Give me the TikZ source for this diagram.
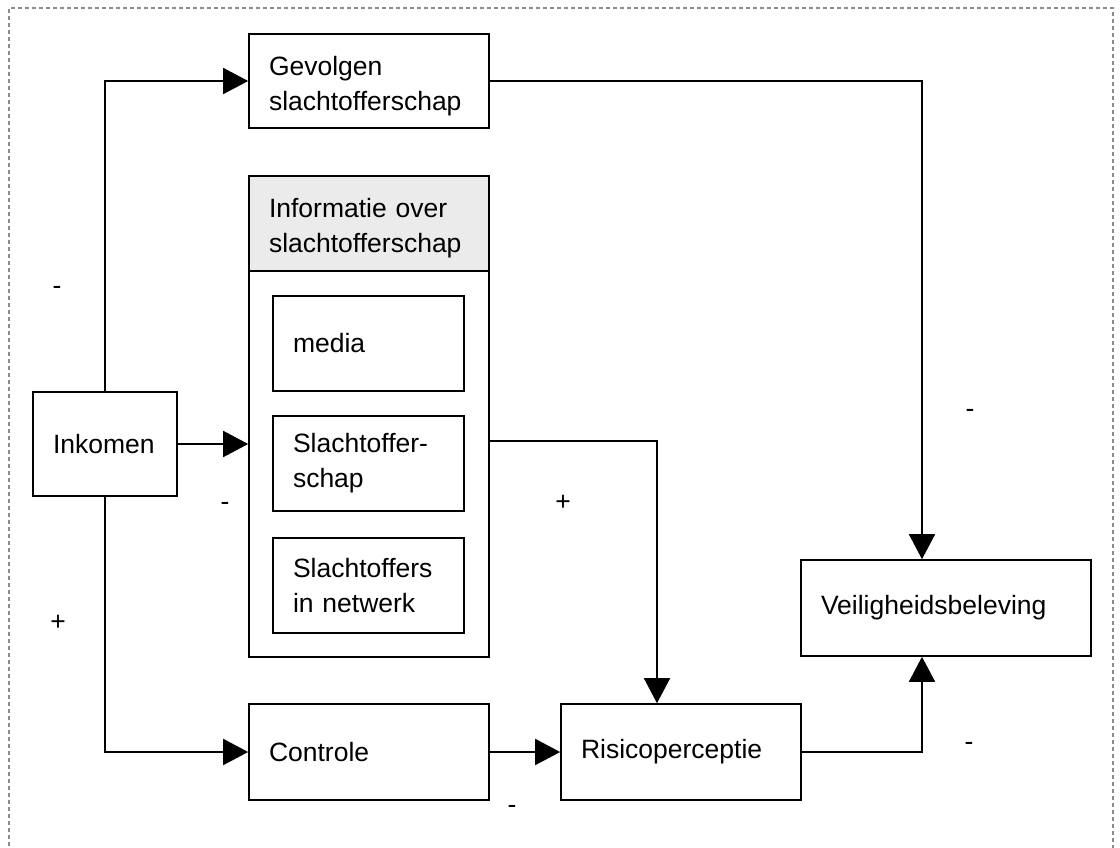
\documentclass[tikz,border=0pt]{standalone}
\usepackage{fontspec}
\setmainfont{Liberation Sans}
\usetikzlibrary{arrows.meta}
\newcommand{\topstrut}{\rule{0pt}{29pt}}
\begin{document}
\begin{tikzpicture}[x=1pt,y=-1pt,
  box/.style={draw,line width=1.6pt,inner xsep=20pt,inner ysep=0pt,align=left,
    font=\fontsize{26.5}{35}\selectfont},
  conn/.style={line width=1.6pt,-{Triangle[length=25pt,width=26pt]}},
  lbl/.style={font=\fontsize{26.5}{35}\selectfont,inner sep=0pt}]
\useasboundingbox (0,0) rectangle (1120,847);
% dashed frame (bottom edge outside picture)
\draw[black!45,line width=2.5pt,dash pattern=on 4pt off 3pt] (9,860) -- (9,8) -- (1113,8) -- (1113,860);

\node[box,minimum width=240pt,minimum height=94pt,text width=200pt] (gev) at (369,81) {\topstrut Gevolgen\\slachtofferschap};
\node[box,minimum width=240pt,minimum height=481pt] (info) at (369,416.5) {};
\node[box,fill=black!8,minimum width=240pt,minimum height=95pt,text width=200pt] (infohdr) at (369,223.5) {\topstrut Informatie over\\slachtofferschap};
\node[box,minimum width=191pt,minimum height=95pt,text width=151pt] (media) at (368.5,343.5) {media};
\node[box,minimum width=191pt,minimum height=95pt,text width=151pt] (slacht) at (368.5,463.5) {Slachtoffer-\\schap};
\node[box,minimum width=191pt,minimum height=95pt,text width=151pt] (netw) at (368.5,585.5) {Slachtoffers\\in netwerk};
\node[box,minimum width=144pt,minimum height=104pt,text width=104pt] (ink) at (105,444) {Inkomen};
\node[box,minimum width=240pt,minimum height=96pt,text width=200pt] (contr) at (369,752) {Controle};
\node[box,minimum width=240pt,minimum height=96pt,text width=200pt] (risico) at (681,752) {Risicoperceptie};
\node[box,minimum width=290pt,minimum height=96pt,text width=250pt] (veilig) at (946,608) {Veiligheidsbeleving};

\draw[conn] (ink.north) |- (gev.west);
\draw[conn] (ink.east) -- (ink.east -| info.west);
\draw[conn] (ink.south) |- (contr.west);
\draw[conn] (gev.east) -| ([xshift=-24pt]veilig.north);
\draw[conn] ([yshift=-24.5pt]info.east) -| ([xshift=-24pt]risico.north);
\draw[conn] (contr.east) -- (risico.west);
\draw[conn] (risico.east) -| ([xshift=-24pt]veilig.south);

\node[lbl] (l1) at (57,290) {-};
\node[lbl] (l2) at (225,506) {-};
\node[lbl] (l3) at (58,623) {+};
\node[lbl] (l4) at (563,503) {+};
\node[lbl] (l5) at (970,413) {-};
\node[lbl] (l6) at (969,746) {-};
\node[lbl] (l7) at (512,809) {-};
\end{tikzpicture}
\end{document}
